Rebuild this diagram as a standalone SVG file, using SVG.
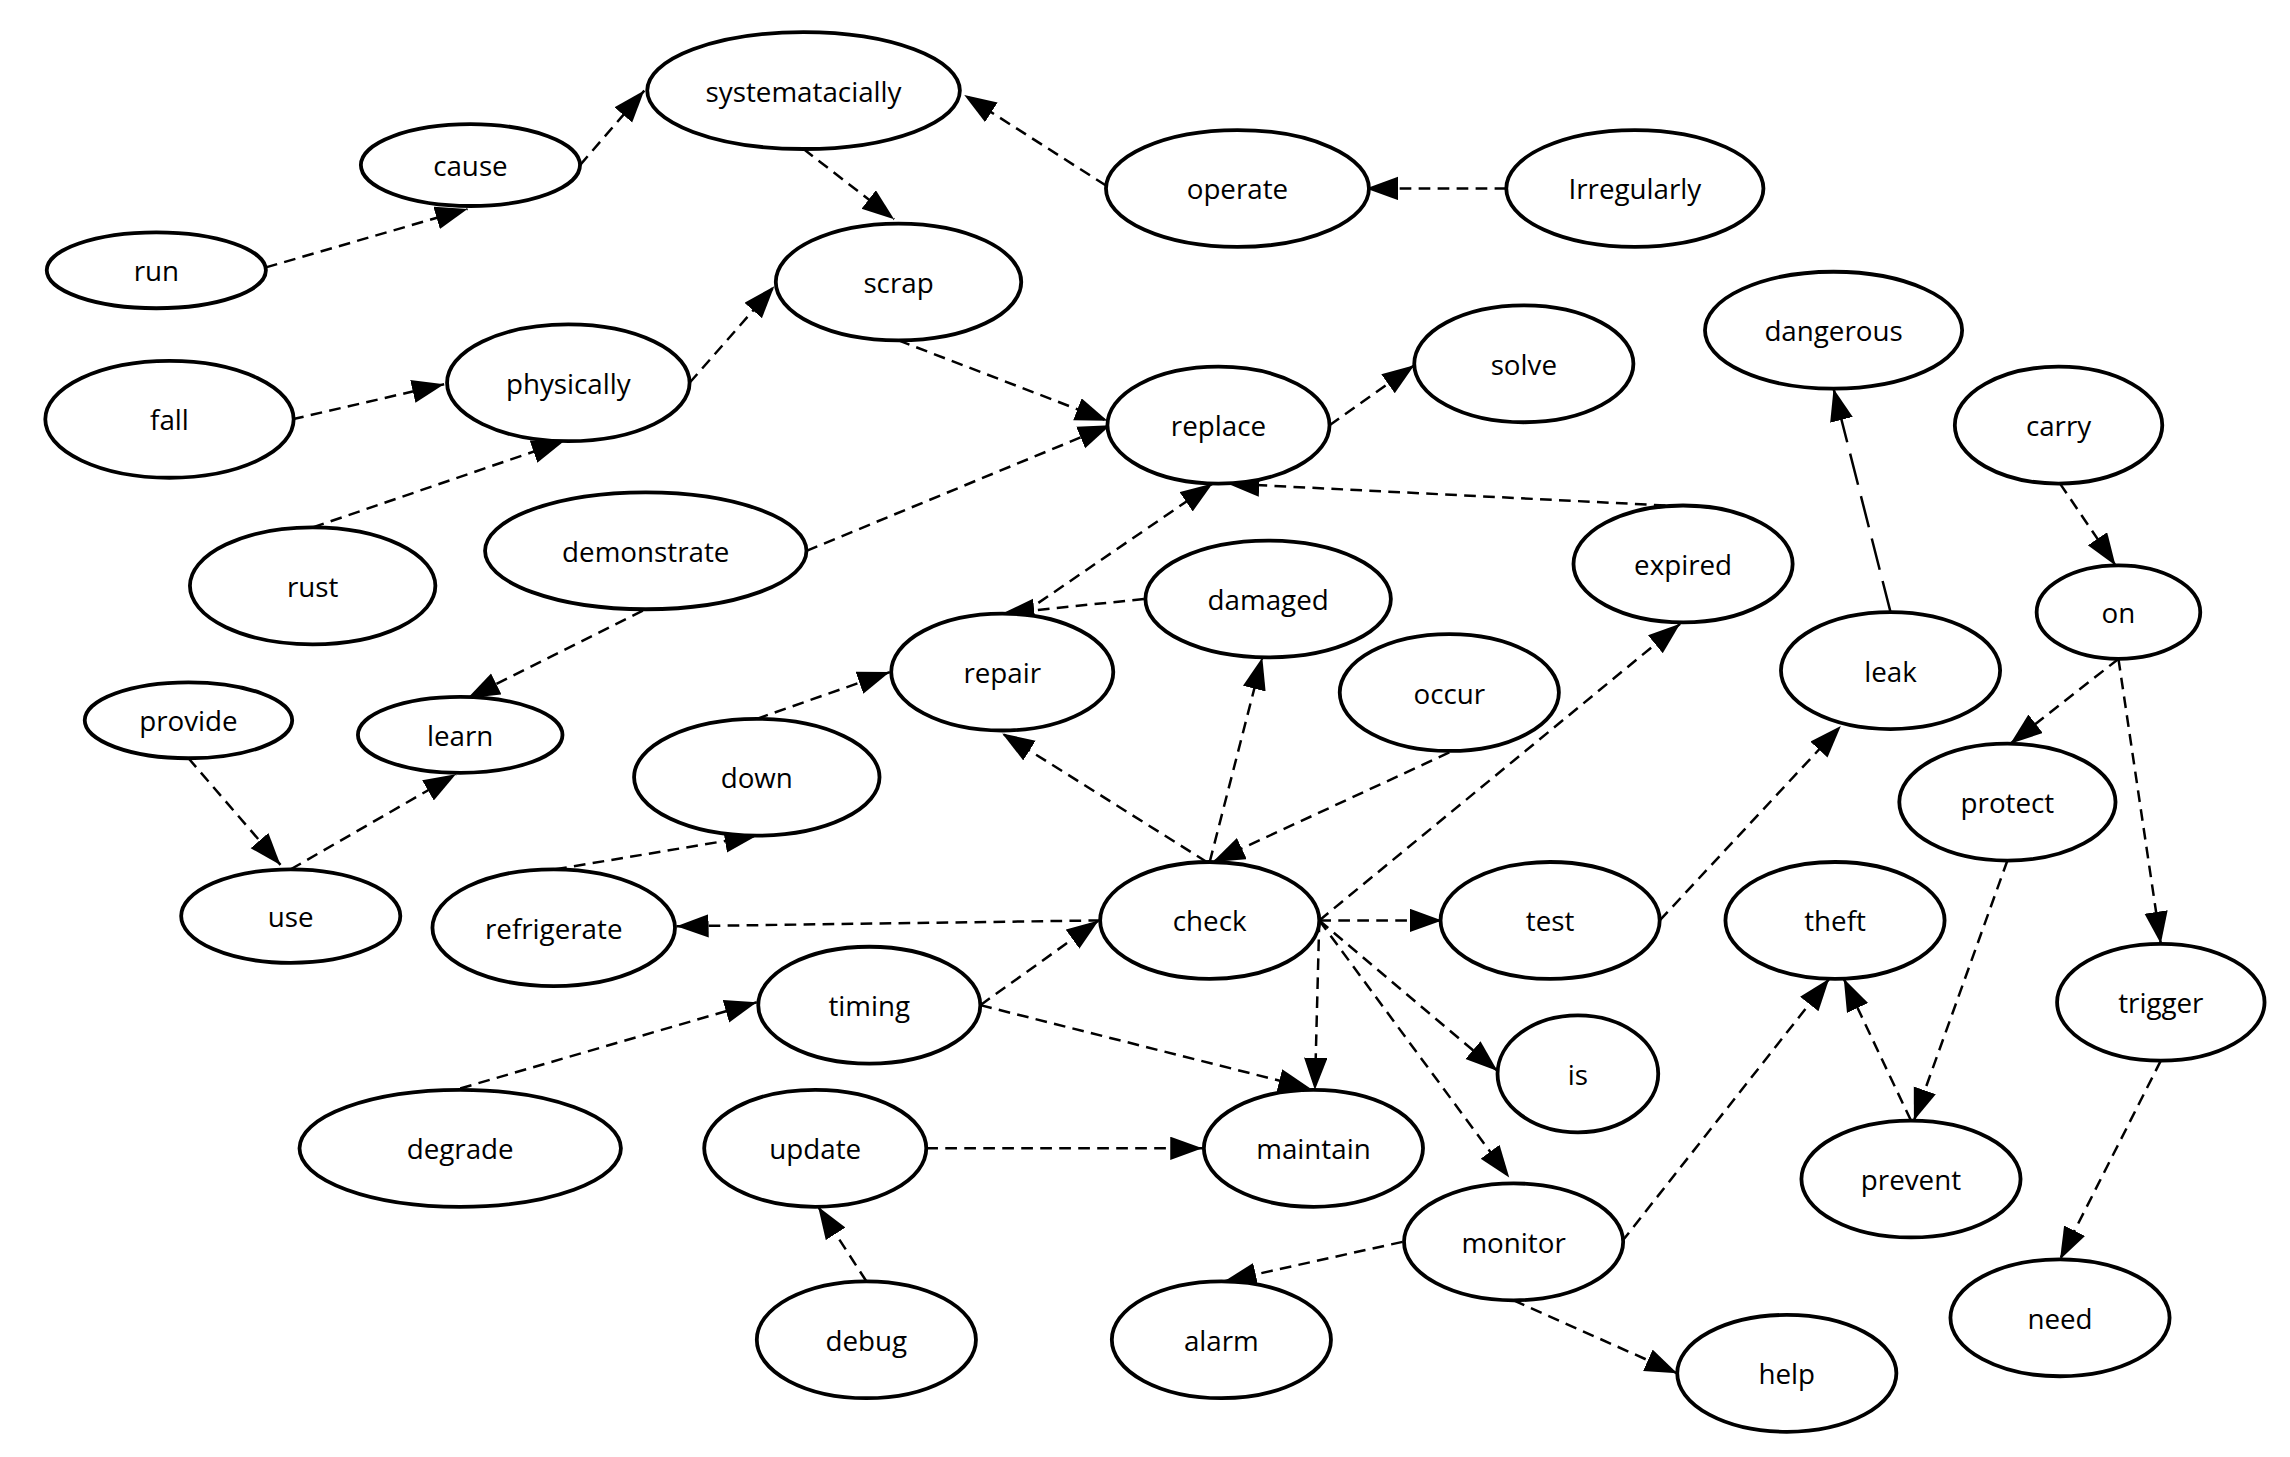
<svg xmlns="http://www.w3.org/2000/svg" width="2290" height="1457" viewBox="0 0 2290 1457">
<style>
.n ellipse{fill:#fff;stroke:#000;stroke-width:2.6}
.n text{font-family:"Open Sans","Liberation Sans",sans-serif;font-size:19px;text-anchor:middle;dominant-baseline:central;fill:#000}
#edges line{stroke:#000;stroke-width:1.7;stroke-dasharray:8,5;marker-end:url(#ah)}
</style>
<defs><marker id="ah" markerUnits="userSpaceOnUse" markerWidth="24" markerHeight="18" refX="22" refY="8" orient="auto"><path d="M0,0 L22,8 L0,16 z" fill="#000"/></marker></defs>
<rect width="2290" height="1457" fill="#fff"/>
<g transform="scale(1.461)">
<g id="edges">
<line x1="182" y1="183" x2="320" y2="143"/>
<line x1="397" y1="113" x2="441" y2="62"/>
<line x1="757" y1="127" x2="660" y2="65"/>
<line x1="1031" y1="129" x2="935" y2="129"/>
<line x1="550" y1="102" x2="612" y2="150"/>
<line x1="472" y1="262" x2="530" y2="196"/>
<line x1="200" y1="287" x2="304" y2="263"/>
<line x1="214" y1="361" x2="386" y2="302"/>
<line x1="615" y1="233" x2="758" y2="288"/>
<line x1="552" y1="377" x2="760" y2="291"/>
<line x1="910" y1="291" x2="968" y2="250"/>
<line x1="1140" y1="346" x2="840" y2="331"/>
<line x1="826" y1="590" x2="686" y2="502"/>
<line x1="700" y1="420" x2="830" y2="331"/>
<line x1="783" y1="410" x2="686" y2="420"/>
<line x1="440" y1="418" x2="320" y2="478"/>
<line x1="129" y1="519" x2="192" y2="592"/>
<line x1="199" y1="595" x2="312" y2="530"/>
<line x1="518" y1="492" x2="609" y2="460"/>
<line x1="380" y1="595" x2="518" y2="572"/>
<line x1="753" y1="630" x2="463" y2="634"/>
<line x1="828" y1="590" x2="864" y2="450"/>
<line x1="992" y1="515" x2="830" y2="590"/>
<line x1="903" y1="630" x2="1150" y2="427"/>
<line x1="903" y1="630" x2="987" y2="630"/>
<line x1="903" y1="630" x2="1025" y2="733"/>
<line x1="903" y1="630" x2="900" y2="746"/>
<line x1="903" y1="630" x2="1033" y2="806"/>
<line x1="671" y1="688" x2="752" y2="630"/>
<line x1="671" y1="688" x2="897" y2="745"/>
<line x1="315" y1="745" x2="518" y2="686"/>
<line x1="634" y1="786" x2="823" y2="786"/>
<line x1="593" y1="877" x2="560" y2="826"/>
<line x1="960" y1="850" x2="838" y2="877"/>
<line x1="1036" y1="890" x2="1148" y2="940"/>
<line x1="1110" y1="850" x2="1252" y2="670"/>
<line x1="1136" y1="630" x2="1260" y2="497"/>
<line x1="1294" y1="419" x2="1255" y2="266" style="stroke-dasharray:22,8"/>
<line x1="1410" y1="331" x2="1448" y2="387"/>
<line x1="1450" y1="451" x2="1376" y2="509"/>
<line x1="1450" y1="451" x2="1479" y2="646"/>
<line x1="1374" y1="589" x2="1310" y2="767"/>
<line x1="1308" y1="767" x2="1262" y2="670"/>
<line x1="1479" y1="726" x2="1410" y2="862"/>
</g>
<g id="systematacially" class="n"><ellipse cx="550" cy="62" rx="107" ry="40"/><text x="550" y="62">systematacially</text></g>
<g id="cause" class="n"><ellipse cx="322" cy="113" rx="75" ry="28"/><text x="322" y="113">cause</text></g>
<g id="operate" class="n"><ellipse cx="847" cy="129" rx="90" ry="40"/><text x="847" y="129">operate</text></g>
<g id="Irregularly" class="n"><ellipse cx="1119" cy="129" rx="88" ry="40"/><text x="1119" y="129">Irregularly</text></g>
<g id="run" class="n"><ellipse cx="107" cy="185" rx="75" ry="26"/><text x="107" y="185">run</text></g>
<g id="scrap" class="n"><ellipse cx="615" cy="193" rx="84" ry="40"/><text x="615" y="193">scrap</text></g>
<g id="fall" class="n"><ellipse cx="116" cy="287" rx="85" ry="40"/><text x="116" y="287">fall</text></g>
<g id="physically" class="n"><ellipse cx="389" cy="262" rx="83" ry="40"/><text x="389" y="262">physically</text></g>
<g id="replace" class="n"><ellipse cx="834" cy="291" rx="76" ry="40"/><text x="834" y="291">replace</text></g>
<g id="solve" class="n"><ellipse cx="1043" cy="249" rx="75" ry="40"/><text x="1043" y="249">solve</text></g>
<g id="dangerous" class="n"><ellipse cx="1255" cy="226" rx="88" ry="40"/><text x="1255" y="226">dangerous</text></g>
<g id="carry" class="n"><ellipse cx="1409" cy="291" rx="71" ry="40"/><text x="1409" y="291">carry</text></g>
<g id="rust" class="n"><ellipse cx="214" cy="401" rx="84" ry="40"/><text x="214" y="401">rust</text></g>
<g id="demonstrate" class="n"><ellipse cx="442" cy="377" rx="110" ry="40"/><text x="442" y="377">demonstrate</text></g>
<g id="expired" class="n"><ellipse cx="1152" cy="386" rx="75" ry="40"/><text x="1152" y="386">expired</text></g>
<g id="damaged" class="n"><ellipse cx="868" cy="410" rx="84" ry="40"/><text x="868" y="410">damaged</text></g>
<g id="on" class="n"><ellipse cx="1450" cy="419" rx="56" ry="32"/><text x="1450" y="419">on</text></g>
<g id="provide" class="n"><ellipse cx="129" cy="493" rx="71" ry="26"/><text x="129" y="493">provide</text></g>
<g id="learn" class="n"><ellipse cx="315" cy="503" rx="70" ry="26"/><text x="315" y="503">learn</text></g>
<g id="repair" class="n"><ellipse cx="686" cy="460" rx="76" ry="40"/><text x="686" y="460">repair</text></g>
<g id="occur" class="n"><ellipse cx="992" cy="474" rx="75" ry="40"/><text x="992" y="474">occur</text></g>
<g id="leak" class="n"><ellipse cx="1294" cy="459" rx="75" ry="40"/><text x="1294" y="459">leak</text></g>
<g id="down" class="n"><ellipse cx="518" cy="532" rx="84" ry="40"/><text x="518" y="532">down</text></g>
<g id="protect" class="n"><ellipse cx="1374" cy="549" rx="74" ry="40"/><text x="1374" y="549">protect</text></g>
<g id="use" class="n"><ellipse cx="199" cy="627" rx="75" ry="32"/><text x="199" y="627">use</text></g>
<g id="refrigerate" class="n"><ellipse cx="379" cy="635" rx="83" ry="40"/><text x="379" y="635">refrigerate</text></g>
<g id="check" class="n"><ellipse cx="828" cy="630" rx="75" ry="40"/><text x="828" y="630">check</text></g>
<g id="test" class="n"><ellipse cx="1061" cy="630" rx="75" ry="40"/><text x="1061" y="630">test</text></g>
<g id="theft" class="n"><ellipse cx="1256" cy="630" rx="75" ry="40"/><text x="1256" y="630">theft</text></g>
<g id="timing" class="n"><ellipse cx="595" cy="688" rx="76" ry="40"/><text x="595" y="688">timing</text></g>
<g id="trigger" class="n"><ellipse cx="1479" cy="686" rx="71" ry="40"/><text x="1479" y="686">trigger</text></g>
<g id="is" class="n"><ellipse cx="1080" cy="735" rx="55" ry="40"/><text x="1080" y="735">is</text></g>
<g id="degrade" class="n"><ellipse cx="315" cy="786" rx="110" ry="40"/><text x="315" y="786">degrade</text></g>
<g id="update" class="n"><ellipse cx="558" cy="786" rx="76" ry="40"/><text x="558" y="786">update</text></g>
<g id="maintain" class="n"><ellipse cx="899" cy="786" rx="75" ry="40"/><text x="899" y="786">maintain</text></g>
<g id="prevent" class="n"><ellipse cx="1308" cy="807" rx="75" ry="40"/><text x="1308" y="807">prevent</text></g>
<g id="monitor" class="n"><ellipse cx="1036" cy="850" rx="75" ry="40"/><text x="1036" y="850">monitor</text></g>
<g id="need" class="n"><ellipse cx="1410" cy="902" rx="75" ry="40"/><text x="1410" y="902">need</text></g>
<g id="debug" class="n"><ellipse cx="593" cy="917" rx="75" ry="40"/><text x="593" y="917">debug</text></g>
<g id="alarm" class="n"><ellipse cx="836" cy="917" rx="75" ry="40"/><text x="836" y="917">alarm</text></g>
<g id="help" class="n"><ellipse cx="1223" cy="940" rx="75" ry="40"/><text x="1223" y="940">help</text></g>
</g>
</svg>
